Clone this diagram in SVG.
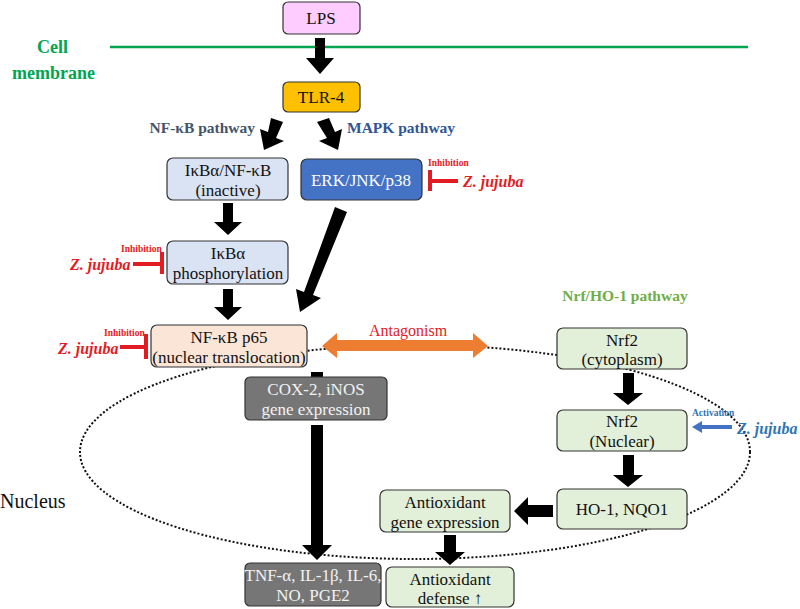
<svg xmlns="http://www.w3.org/2000/svg" width="800" height="609" viewBox="0 0 800 609">
<style>
.b{stroke:#333;stroke-width:1.2}
.t{font-family:"Liberation Serif",serif;font-size:17px;text-anchor:middle;fill:#111}
.g{fill:#E2F0D9}
.bl{fill:#DAE3F3}
.dg{fill:#767676}
.inh{font-family:"Liberation Serif",serif;font-size:9.5px;font-weight:bold;fill:#E31B23}
.zj{font-family:"Liberation Serif",serif;font-size:16px;font-weight:bold;font-style:italic;fill:#E31B23}
.pw{font-family:"Liberation Serif",serif;font-size:15.5px;font-weight:bold}
.red{stroke:#E31B23;stroke-width:4;fill:none}
</style>
<rect width="800" height="609" fill="#fff"/>
<line x1="110" y1="47" x2="748" y2="47" stroke="#00A550" stroke-width="2.5"/>
<text x="37" y="53" font-family="Liberation Serif,serif" font-size="18" font-weight="bold" fill="#00A550">Cell</text>
<text x="12" y="79" font-family="Liberation Serif,serif" font-size="18" font-weight="bold" fill="#00A550">membrane</text>
<ellipse cx="415" cy="452" rx="335" ry="107" fill="none" stroke="#111" stroke-width="2" stroke-dasharray="2 2"/>
<text x="0" y="508" font-family="Liberation Serif,serif" font-size="20" fill="#111">Nucleus</text>
<text x="255" y="133" class="pw" text-anchor="end" fill="#44546A">NF-κB pathway</text>
<text x="347" y="133" class="pw" fill="#2F5597">MAPK pathway</text>
<text x="625" y="301" class="pw" text-anchor="middle" fill="#70AD47">Nrf/HO-1 pathway</text>
<g id="connectors" fill="#000">
<polygon points="315,38 325,38 325,58 334,58 320,74 306,58 315,58"/>
<polygon points="271,118 283,122 276,138 284,141 264,150 260,129 268,132"/>
<polygon points="317,122 329,118 335,132 342,129 338,150 319,141 327,138"/>
<polygon points="223,203 233,203 233,222 242,222 228,235 214,222 223,222"/>
<polygon points="223,289 233,289 233,307 242,307 228,320 214,307 223,307"/>
<polygon points="335,207 347,212 313,295 321,298 300,312 296,289 304,292"/>
<polygon points="311,372 323,372 323,393 332,393 317,406 302,393 311,393"/>
<polygon points="311,425 323,425 323,545 332,545 317,560 302,545 311,545"/>
<polygon points="623,373 634,373 634,393 643,393 628,405 613,393 623,393"/>
<polygon points="623,455 634,455 634,475 643,475 628,487 613,475 623,475"/>
<polygon points="553,505 553,517 528,517 528,525 514,511 528,497 528,505"/>
<polygon points="444,535 456,535 456,552 465,552 450,565 435,552 444,552"/>
<polygon points="322,346 337,333 337,340 473,340 473,333 488,346 473,358 473,351 337,351 337,358" fill="#ED7D31"/>
<text x="408" y="336" font-family="Liberation Serif,serif" font-size="16" fill="#E31B23" text-anchor="middle">Antagonism</text>
</g>
<g id="LPS"><rect x="283" y="2" width="77" height="32" rx="5" fill="#FFCCFF" class="b"/><text x="321" y="24" class="t">LPS</text></g>
<g id="TLR4"><rect x="283" y="82" width="77" height="30" rx="5" fill="#FFC000" class="b"/><text x="321" y="103" class="t">TLR-4</text></g>
<g id="IkBa_NFkB"><rect x="167" y="158" width="121" height="42" rx="6" class="b bl"/><text x="228" y="176" class="t">IκBα/NF-κB</text><text x="228" y="196" class="t">(inactive)</text></g>
<g id="ERK"><rect x="301" y="159" width="121" height="41" rx="6" fill="#4472C4" class="b"/><text x="361" y="186" class="t" style="fill:#fff">ERK/JNK/p38</text></g>
<g id="IkBa_p"><rect x="167" y="241" width="121" height="43" rx="6" class="b bl"/><text x="228" y="259" class="t">IκBα</text><text x="228" y="279" class="t">phosphorylation</text></g>
<g id="p65"><rect x="151" y="325" width="156" height="42" rx="6" fill="#FBE5D6" class="b"/><text x="229" y="343" class="t">NF-κB p65</text><text x="229" y="363" class="t">(nuclear translocation)</text></g>
<g id="COX"><rect x="245" y="377" width="142" height="43" rx="5" class="b dg"/><text x="316" y="395" class="t" style="fill:#f2f2f2">COX-2, iNOS</text><text x="316" y="415" class="t" style="fill:#f2f2f2">gene expression</text></g>
<g id="TNF"><rect x="245" y="563" width="136" height="43" rx="5" class="b dg"/><text x="313" y="581" class="t" style="fill:#f2f2f2">TNF-α, IL-1β, IL-6,</text><text x="313" y="601" class="t" style="fill:#f2f2f2">NO, PGE2</text></g>
<g id="Nrf2c"><rect x="557" y="328" width="130" height="41" rx="6" class="b g"/><text x="622" y="346" class="t">Nrf2</text><text x="622" y="365" class="t">(cytoplasm)</text></g>
<g id="Nrf2n"><rect x="557" y="410" width="130" height="41" rx="6" class="b g"/><text x="622" y="427" class="t">Nrf2</text><text x="622" y="447" class="t">(Nuclear)</text></g>
<g id="HO1"><rect x="557" y="489" width="130" height="40" rx="6" class="b g"/><text x="622" y="515" class="t">HO-1, NQO1</text></g>
<g id="AGE"><rect x="380" y="490" width="130" height="42" rx="6" class="b g"/><text x="445" y="508" class="t">Antioxidant</text><text x="445" y="528" class="t">gene expression</text></g>
<g id="AD"><rect x="386" y="567" width="128" height="40" rx="6" class="b g"/><text x="450" y="585" class="t">Antioxidant</text><text x="450" y="604" class="t">defense ↑</text></g>
<g id="inhibitions">
<path class="red" d="M430,170 V191 M430,181 H458"/><text x="428" y="166" class="inh">Inhibition</text><text x="463" y="187" class="zj">Z. jujuba</text>
<path class="red" d="M162,252 V274 M162,264 H133"/><text x="121" y="252" class="inh">Inhibition</text><text x="70" y="270" class="zj">Z. jujuba</text>
<path class="red" d="M146,334 V359 M146,347 H120"/><text x="104" y="336" class="inh">Inhibition</text><text x="58" y="354" class="zj">Z. jujuba</text>
<polygon points="692,427 702,421 702,425 732,425 732,429 702,429 702,433" fill="#4472C4"/>
<text x="692" y="416" font-family="Liberation Serif,serif" font-size="9.5" font-weight="bold" fill="#2E75B6">Activation</text>
<text x="737" y="434" font-family="Liberation Serif,serif" font-size="16" font-weight="bold" font-style="italic" fill="#2E75B6">Z. jujuba</text>
</g>
</svg>
